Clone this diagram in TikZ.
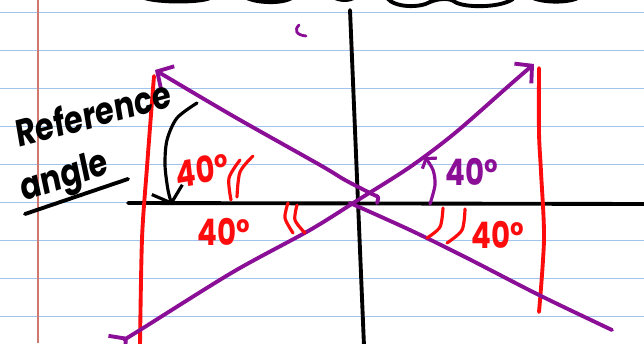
\documentclass[tikz,border=0pt]{standalone}
\usepackage{fontspec}
\setmainfont{Poppins}
\usepackage{xcolor}
\usepackage{tikz}
\usetikzlibrary{arrows.meta}
\definecolor{NoteRule}{RGB}{160,196,236}
\definecolor{NoteMargin}{RGB}{208,120,110}
\definecolor{InkPurple}{RGB}{138,14,150}
\definecolor{InkRed}{RGB}{252,12,12}
\tikzset{barb/.tip={Straight Barb[length=6mm,width=13mm]}}

\begin{document}
\begin{tikzpicture}[
    x=0.05cm,y=-0.05cm,
    rule/.style={draw=NoteRule, line width=2pt},
    ink/.style={line width=5.5pt, line cap=round, line join=round},
    axisline/.style={ink, draw=black},
    ray/.style={ink, draw=InkPurple},
    sideline/.style={ink, draw=InkRed},
    tickarc/.style={ink, draw=InkRed, line width=4.5pt},
    deg/.style={font=\fontsize{52}{52}\selectfont\bfseries, inner sep=0pt, xscale=0.8, transform shape},
    note/.style={font=\fontsize{54}{54}\selectfont\bfseries, inner sep=0pt, text=black, xscale=0.8, transform shape}
  ]
    \useasboundingbox (0,0) rectangle (644,343);
    \clip (0,0) rectangle (644,343);
    \fill[white] (0,0) rectangle (644,343);
    % paper
    \foreach \k in {0,...,8} {\draw[rule] (0,12.7+38*\k) -- (644,12.7+38*\k);}
    \draw[draw=NoteMargin, line width=1.5pt] (38,0) -- (38,343);
    % handwriting cut off at the top
    \draw[axisline] (140,-4) .. controls (150,3) and (200,3) .. (210,-2);
    \draw[axisline] (243,-4) .. controls (255,4) and (285,4) .. (293,-3);
    \draw[axisline] (333,-3) .. controls (340,1) and (350,1) .. (355,-3);
    \draw[axisline] (387,-2) .. controls (395,8) and (420,8) .. (430,2) .. controls (440,-2) and (450,-2) .. (455,2) .. controls (465,8) and (500,8) .. (513,-1);
    \draw[axisline] (533,-2) .. controls (545,3) and (570,3) .. (580,-3);
    \draw[ray, line width=4pt] (299,25) .. controls (294,30) and (296,35) .. (306,36);
    % axes
    \coordinate (ytop) at (350,10);
    \coordinate (ybot) at (364,346);
    \coordinate (xleft) at (128,203);
    \coordinate (xright) at (650,204);
    \draw[axisline] (ytop) -- (ybot);
    \draw[axisline] (xleft) -- (xright);
    % red sides
    \draw[sideline] plot[smooth] coordinates {(154,76) (147,167) (142,239) (140,346)};
    \draw[sideline] plot[smooth] coordinates {(539,68) (539,133) (541,172) (544,239) (539,312)};
    % purple rays
    \draw[ray, barb-barb] plot[smooth] coordinates {(128,337) (140,330) (233,272) (310,230) (358,200) (410,167) (455,133) (512,83) (534,64)};
    \draw[ray, -barb] plot[smooth] coordinates {(377,203) (378,197) (372,194) (345,180) (320,165) (233,116) (155,70)};
    \draw[ray] plot[smooth] coordinates {(350,203) (410,230) (467,258) (539,295) (612,330)};
    % angle arrows
    \draw[axisline, line width=4.5pt, -{Straight Barb[length=7mm,width=16mm]}] plot[smooth] coordinates {(197,103) (177,118) (167,140) (165,165) (168,190) (172,205)};
    \draw[ray, line width=4.5pt, -{Straight Barb[length=3mm,width=9mm]}] plot[smooth] coordinates {(430,204) (435,185) (433,170) (425,157)};
    % equal-angle marks
    \foreach \ax/\ay/\bx/\by/\cx/\cy in {240/160/229/178/231/200, 253/156/240/172/237/197, 288/203/285/218/293/233, 297/205/295/220/305/233, 443/208/440/227/427/238, 465/209/462/230/447/243} {
      \draw[tickarc] plot[smooth] coordinates {(\ax,\ay) (\bx,\by) (\cx,\cy)};
    }
    % labels
    \node[deg, text=InkRed, rotate=8] (upperdeg) at (202,170) {40°};
    \node[deg, text=InkRed] (lowerdeg) at (224,232) {40°};
    \node[deg, text=InkPurple] (raydeg) at (472,172) {40°};
    \node[deg, text=InkRed] (rightdeg) at (498,235) {40°};
    \node[note, rotate=12] (refword) at (93,113) {Reference};
    \node[note, rotate=15] (angleword) at (65,179) {angle};
    \coordinate (ulstart) at (25,214);
    \coordinate (ulend) at (128,179);
    \draw[axisline] (ulstart) -- (ulend);
  \end{tikzpicture}
\end{document}
